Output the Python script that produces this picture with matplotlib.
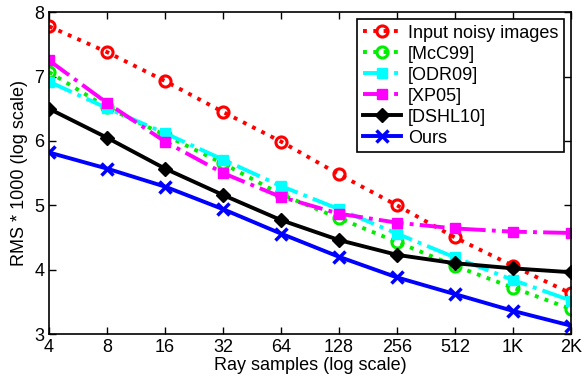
import matplotlib
matplotlib.use('Agg')
import matplotlib.pyplot as plt

plt.rcParams['font.family'] = ['Liberation Sans', 'DejaVu Sans']

# x categories (log2 spaced ray samples)
samples = ['4', '8', '16', '32', '64', '128', '256', '512', '1K', '2K']

input_noisy = [7.78, 7.38, 6.93, 6.45, 5.99, 5.48, 5.00, 4.50, 4.06, 3.63]
mcc99 = [7.07, 6.52, 6.09, 5.65, 5.17, 4.80, 4.43, 4.06, 3.72, 3.39]
odr09 = [6.92, 6.51, 6.12, 5.71, 5.30, 4.94, 4.56, 4.19, 3.84, 3.52]
xp05 = [7.25, 6.59, 5.99, 5.50, 5.13, 4.87, 4.73, 4.64, 4.59, 4.57]
dshl10 = [6.50, 6.05, 5.57, 5.16, 4.77, 4.46, 4.23, 4.10, 4.02, 3.96]
ours = [5.82, 5.57, 5.29, 4.94, 4.56, 4.20, 3.88, 3.62, 3.36, 3.13]

x = list(range(len(samples)))

fig = plt.figure(figsize=(5.87, 3.80), dpi=100)
ax = fig.add_axes([0.0835, 0.121, 0.889, 0.847])

lw = 2.8
ax.plot(x, input_noisy, ':', color='#ff0000', lw=lw, marker='o', ms=8,
        mfc='none', mew=2.2, label='Input noisy images')
ax.plot(x, mcc99, ':', color='#00ee00', lw=lw, marker='o', ms=8,
        mfc='none', mew=2.2, label='[McC99]')
ax.plot(x, odr09, '-.', color='#00ffff', lw=lw, marker='s', ms=7,
        label='[ODR09]')
ax.plot(x, xp05, '-.', color='#ff00ff', lw=lw, marker='s', ms=7,
        label='[XP05]')
ax.plot(x, dshl10, '-', color='black', lw=lw, marker='D', ms=7,
        label='[DSHL10]')
ax.plot(x, ours, '-', color='#0000ff', lw=lw, marker='x', ms=8, mew=2.5,
        label='Ours')

ax.set_xlim(0, len(samples) - 1)
ax.set_ylim(3, 8)
ax.set_xticks(x)
ax.set_xticklabels(samples)
ax.set_yticks([3, 4, 5, 6, 7, 8])
ax.tick_params(direction='in', top=True, right=True, labelsize=13,
               length=5, width=1)
for s in ax.spines.values():
    s.set_linewidth(1.2)

ax.set_xlabel('Ray samples (log scale)', fontsize=13, labelpad=1)
ax.set_ylabel('RMS * 1000 (log scale)', fontsize=13, labelpad=4)

leg = ax.legend(loc='upper right', fontsize=13, frameon=True, fancybox=False,
                edgecolor='black', framealpha=1, handlelength=2.1,
                borderpad=0.3, labelspacing=0.22, handletextpad=0.4,
                borderaxespad=0.4)
leg.get_frame().set_linewidth(1.2)

fig.savefig('out.png', dpi=100)
